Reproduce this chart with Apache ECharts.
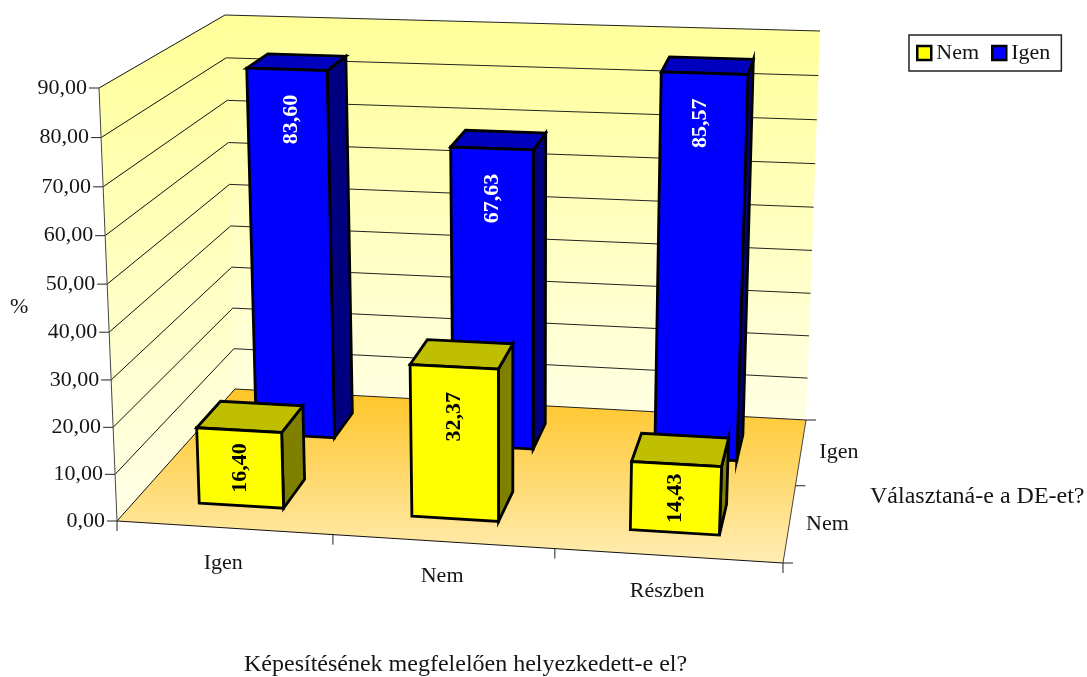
<!DOCTYPE html>
<html><head><meta charset="utf-8">
<style>html,body{margin:0;padding:0;background:#fff}#c{width:1087px;height:677px}</style>
<script src="https://cdn.jsdelivr.net/npm/echarts@6/dist/echarts.min.js"></script>
</head><body><div id="c"></div>
<script>
const categories = ['Igen', 'Nem', 'Részben'];
const depthCategories = ['Nem', 'Igen'];
const nemValues = [16.40, 32.37, 14.43];
const igenValues = [83.60, 67.63, 85.57];
const valueTicks = [0, 10, 20, 30, 40, 50, 60, 70, 80, 90];
const FONT = '"Liberation Serif", serif';
const TEXT = '#151515';

// View frame of the 3D box (the perspective of the plot, not data)
const floorQuad = [[117, 521], [783, 563], [806, 420], [235, 389]];
const ceilQuad = [[99, 88], [803, 112], [820, 31], [225, 15]];
const HEIGHT_PERSPECTIVE = 0.035;
function quadMap(q) {
  const [p0, p1, p2, p3] = q;
  const dx1 = p1[0] - p2[0], dx2 = p3[0] - p2[0], sx = p0[0] - p1[0] + p2[0] - p3[0];
  const dy1 = p1[1] - p2[1], dy2 = p3[1] - p2[1], sy = p0[1] - p1[1] + p2[1] - p3[1];
  const d = dx1 * dy2 - dx2 * dy1;
  const g = (sx * dy2 - dx2 * sy) / d, h = (dx1 * sy - sx * dy1) / d;
  const a = p1[0] - p0[0] + g * p1[0], b = p3[0] - p0[0] + h * p3[0], c = p0[0];
  const e = p1[1] - p0[1] + g * p1[1], f = p3[1] - p0[1] + h * p3[1], i = p0[1];
  return (u, w) => { const z = g * u + h * w + 1; return [(a * u + b * w + c) / z, (e * u + f * w + i) / z]; };
}
const floorMap = quadMap(floorQuad), ceilMap = quadMap(ceilQuad);
function project(u, w, h) {
  const F = floorMap(u, w), T = ceilMap(u, w);
  const t = h / (1 + HEIGHT_PERSPECTIVE * (1 - h));
  return [F[0] + (T[0] - F[0]) * t, F[1] + (T[1] - F[1]) * t];
}

const G = { left: 100, top: 100, width: 600, height: 400 };
const BAR_U = 0.40, BAR_W = 0.40;
const ROW_CENTERS = [0.245, 0.755];

function line(a, b, color, lw) {
  return { type: 'line', shape: { x1: a[0], y1: a[1], x2: b[0], y2: b[1] }, style: { stroke: color, lineWidth: lw || 1 }, silent: true };
}
function poly(points, fill, stroke, lw) {
  return { type: 'polygon', shape: { points }, style: { fill, stroke: stroke || 'none', lineWidth: lw || 0, lineJoin: 'miter' }, silent: true };
}
function text(str, x, y, align, opts) {
  opts = opts || {};
  return { type: 'text', x, y, rotation: opts.rotation || 0, silent: true,
    style: { text: str, x: 0, y: 0, fill: opts.fill || TEXT, font: (opts.weight || 'normal') + ' ' + (opts.size || 22) + 'px ' + FONT, align, verticalAlign: 'middle' } };
}
function grad(stops) {
  return new echarts.graphic.LinearGradient(0, 0, 0, 1, stops.map((c, i) => ({ offset: i / (stops.length - 1), color: c })));
}

function renderFrame(params, api) {
  const ch = [];
  const vFrac = v => (G.top + G.height - api.coord([0, v])[1]) / G.height;
  ch.push(poly([project(0,0,0), project(0,1,0), project(0,1,1), project(0,0,1)], grad(['#FFFF99', '#FFFFE8'])));
  ch.push(poly([project(0,1,0), project(1,1,0), project(1,1,1), project(0,1,1)], grad(['#FFFF99', '#FFFFE4'])));
  ch.push(poly([project(0,0,0), project(1,0,0), project(1,1,0), project(0,1,0)], grad(['#FFC526', '#FFEDB4'])));
  valueTicks.forEach(v => {
    const h = vFrac(v), a = project(0,0,h), b = project(0,1,h), c = project(1,1,h);
    ch.push(line(a, b, '#111', 1), line(b, c, '#222', 1));
    ch.push(line(a, [a[0] - 10, a[1]], '#222', 1));
    ch.push(text(v.toFixed(2).replace('.', ','), a[0] - 12, a[1], 'right'));
  });
  ch.push(line(project(0,0,0), project(0,0,1), '#444', 1));
  ch.push(line(project(0,0,0), project(1,0,0), '#111', 1));
  ch.push(line(project(1,0,0), project(1,1,0), '#444', 1));
  categories.concat(['']).forEach((c, i) => {
    const p = api.coord([i, 0]), bw = api.size([1, 0])[0];
    const uL = (p[0] - bw / 2 - G.left) / G.width;
    const a = project(uL, 0, 0);
    ch.push(line(a, [a[0], a[1] + 10], '#222', 1));
    if (c) {
      const m = project(uL + bw / 2 / G.width, 0, 0);
      ch.push(text(c, m[0] - 1, m[1] + 35, 'center'));
    }
  });
  depthCategories.concat(['']).forEach((c, i) => {
    const w0 = i / depthCategories.length;
    const a = project(1, w0, 0);
    ch.push(line(a, [a[0] + 10, a[1]], '#222', 1));
    if (c) {
      const m = project(1, w0 + 0.5 / depthCategories.length, 0);
      ch.push(text(c, m[0] + 38, m[1] + 1, 'center'));
    }
  });
  return { type: 'group', children: ch };
}

function makeBarRenderer(row, colors, labelColor) {
  return function (params, api) {
    const cat = api.value(0), val = api.value(1);
    const p = api.coord([cat, val]), bw = api.size([1, 0])[0] / G.width;
    const uc = (p[0] - G.left) / G.width, h = (G.top + G.height - p[1]) / G.height;
    const u0 = uc - bw * BAR_U / 2, u1 = uc + bw * BAR_U / 2;
    const wc = ROW_CENTERS[row], w0 = wc - BAR_W / 4, w1 = wc + BAR_W / 4;
    const d0 = wc - BAR_W / 2 / 2, d1 = wc + BAR_W / 2 / 2;
    const FBL = project(u0,d0,0), FBR = project(u1,d0,0), BBR = project(u1,d1,0);
    const FTL = project(u0,d0,h), FTR = project(u1,d0,h), BTR = project(u1,d1,h), BTL = project(u0,d1,h);
    const lw = 2.8, ch = [];
    ch.push(poly([FBR, BBR, BTR, FTR], colors[2], '#000', lw));
    ch.push(poly([FTL, FTR, BTR, BTL], colors[1], '#000', lw));
    ch.push(poly([FBL, FBR, FTR, FTL], colors[0], '#000', lw));
    const cx = (FTL[0] + FTR[0] + FBL[0] + FBR[0]) / 4;
    const topY = (FTL[1] + FTR[1]) / 2, botY = (FBL[1] + FBR[1]) / 2;
    const ly = topY + Math.min(50, (botY - topY) / 2);
    ch.push(text(val.toFixed(2).replace('.', ','), cx, ly, 'center', { rotation: Math.PI / 2, fill: labelColor, weight: 'bold' }));
    return { type: 'group', children: ch };
  };
}

const chart = echarts.init(document.getElementById('c'), null, { renderer: 'canvas' });
chart.setOption({
  animation: false,
  backgroundColor: '#fff',
  grid: G,
  xAxis: { type: 'category', data: categories, show: false },
  yAxis: { type: 'value', min: 0, max: 90, interval: 10, show: false },
  legend: {
    left: 909, top: 35, data: ['Nem', 'Igen'], icon: 'rect', itemWidth: 14, itemHeight: 14, itemGap: 12,
    padding: [7, 11, 7, 7], borderColor: '#222', borderWidth: 1.5, backgroundColor: '#fff',
    textStyle: { fontFamily: FONT, fontSize: 22, color: TEXT },
    itemStyle: { borderColor: '#000', borderWidth: 2.5 }, selectedMode: false
  },
  series: [
    { type: 'custom', name: 'frame', coordinateSystem: 'cartesian2d', data: [[0, 0]], renderItem: renderFrame, silent: true, z: 1 },
    { type: 'custom', name: 'Igen', coordinateSystem: 'cartesian2d', itemStyle: { color: '#0000FF' }, silent: true, z: 2,
      data: igenValues.map((v, i) => [i, v]), encode: { x: 0, y: 1 }, renderItem: makeBarRenderer(1, ['#0000FF', '#0000BF', '#000080'], '#fff') },
    { type: 'custom', name: 'Nem', coordinateSystem: 'cartesian2d', itemStyle: { color: '#FFFF00' }, silent: true, z: 3,
      data: nemValues.map((v, i) => [i, v]), encode: { x: 0, y: 1 }, renderItem: makeBarRenderer(0, ['#FFFF00', '#BFBF00', '#808000'], '#000') }
  ],
  graphic: [
    { type: 'text', left: 10, top: 296, silent: true, style: { text: '%', font: '22px ' + FONT, fill: TEXT } },
    { type: 'text', left: 870, top: 485, silent: true, style: { text: 'Választaná-e a DE-et?', font: '24px ' + FONT, fill: TEXT } },
    { type: 'text', left: 244, top: 653, silent: true, style: { text: 'Képesítésének megfelelően helyezkedett-e el?', font: '24px ' + FONT, fill: TEXT } }
  ]
});
</script></body></html>
